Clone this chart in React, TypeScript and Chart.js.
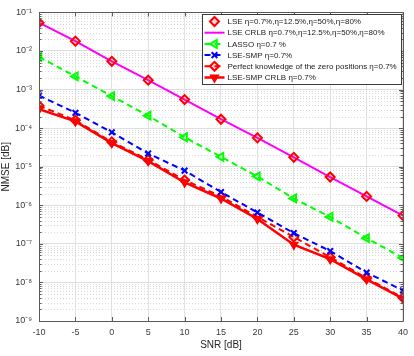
import React, { useEffect, useRef } from "react";
import { Chart, registerables } from "chart.js";
import { drawPoint } from "chart.js/helpers";

Chart.register(...registerables);

const snr = [-10, -5, 0, 5, 10, 15, 20, 25, 30, 35, 40];
const lseValues = [0.054, 0.018, 5.4e-3, 1.75e-3, 5.5e-4, 1.7e-4, 5.6e-5, 1.75e-5, 5.4e-6, 1.7e-6, 5.4e-7];
const lseCrlbValues = [0.054, 0.018, 5.4e-3, 1.75e-3, 5.5e-4, 1.7e-4, 5.6e-5, 1.75e-5, 5.4e-6, 1.7e-6, 5.4e-7];
const lassoValues = [7e-3, 2.2e-3, 6.8e-4, 2.1e-4, 5.8e-5, 1.8e-5, 5.6e-6, 1.5e-6, 5e-7, 1.4e-7, 4.3e-8];
const smpValues = [7e-4, 2.5e-4, 7.8e-5, 2.2e-5, 7.9e-6, 2.2e-6, 6.5e-7, 1.9e-7, 6.5e-8, 1.8e-8, 6.2e-9];
const perfectValues = [3.8e-4, 1.6e-4, 4.4e-5, 1.5e-5, 4.5e-6, 1.7e-6, 5e-7, 1.5e-7, 4.5e-8, 1.3e-8, 4e-9];
const smpCrlbValues = [3.1e-4, 1.5e-4, 4.1e-5, 1.4e-5, 3.9e-6, 1.5e-6, 4.4e-7, 9.5e-8, 4e-8, 1.2e-8, 3.8e-9];

const seriesLabels = [
  "LSE \u03b7=0.7%,\u03b7=12.5%,\u03b7=50%,\u03b7=80%",
  "LSE CRLB \u03b7=0.7%,\u03b7=12.5%,\u03b7=50%,\u03b7=80%",
  "LASSO \u03b7=0.7 %",
  "LSE-SMP \u03b7=0.7%",
  "Perfect knowledge of the zero positions \u03b7=0.7%",
  "LSE-SMP CRLB \u03b7=0.7%",
];

const yTickValues = [1e-9, 1e-8, 1e-7, 1e-6, 1e-5, 1e-4, 1e-3, 1e-2, 1e-1];
const yTickLabels = ["10\u207b\u2079", "10\u207b\u2078", "10\u207b\u2077", "10\u207b\u2076", "10\u207b\u2075", "10\u207b\u2074", "10\u207b\u00b3", "10\u207b\u00b2", "10\u207b\u00b9"];
const xTickValues = [-10, -5, 0, 5, 10, 15, 20, 25, 30, 35, 40];

const FONT = "'Liberation Sans', Arial, Helvetica, sans-serif";
const AXIS = "#5a5a5a";

const toPoints = (vals: number[]) => snr.map((x, i) => ({ x, y: vals[i] }));

const decorPlugin = {
  id: "decor",
  beforeDatasetsDraw(chart: any) {
    const { ctx, chartArea, scales } = chart;
    const y = scales.y;
    ctx.save();
    ctx.strokeStyle = "#d9d9d9";
    ctx.lineWidth = 1;
    ctx.setLineDash([1, 2]);
    for (let e = -9; e < -1; e++) {
      for (let m = 2; m <= 9; m++) {
        const py = Math.round(y.getPixelForValue(m * Math.pow(10, e))) + 0.5;
        ctx.beginPath();
        ctx.moveTo(chartArea.left, py);
        ctx.lineTo(chartArea.right, py);
        ctx.stroke();
      }
    }
    ctx.restore();
  },
  afterDatasetsDraw(chart: any) {
    const { ctx, chartArea, scales } = chart;
    const { left, right, top, bottom } = chartArea;
    const y = scales.y;
    const x = scales.x;
    ctx.save();
    ctx.strokeStyle = AXIS;
    ctx.lineWidth = 1;
    ctx.setLineDash([]);
    ctx.beginPath();
    ctx.rect(Math.round(left) + 0.5, Math.round(top) + 0.5, Math.round(right - left), Math.round(bottom - top));
    ctx.stroke();
    ctx.beginPath();
    for (let e = -9; e <= -1; e++) {
      for (let m = 1; m <= 9; m++) {
        if (e === -1 && m > 1) break;
        const v = m * Math.pow(10, e);
        const py = Math.round(y.getPixelForValue(v)) + 0.5;
        const len = m === 1 ? 4 : 2.5;
        ctx.moveTo(left, py);
        ctx.lineTo(left + len, py);
        ctx.moveTo(right, py);
        ctx.lineTo(right - len, py);
      }
    }
    for (const t of xTickValues) {
      const px = Math.round(x.getPixelForValue(t)) + 0.5;
      ctx.moveTo(px, bottom);
      ctx.lineTo(px, bottom - 4);
      ctx.moveTo(px, top);
      ctx.lineTo(px, top + 4);
    }
    ctx.stroke();
    ctx.restore();
  },
  afterDraw(chart: any) {
    const { ctx, chartArea } = chart;
    const bw = 199;
    const bh = 70;
    const bx = Math.round(chartArea.right - 2 - bw) + 0.5;
    const by = Math.round(chartArea.top + 2) + 0.5;
    ctx.save();
    ctx.fillStyle = "#ffffff";
    ctx.fillRect(bx, by, bw, bh);
    ctx.strokeStyle = "#3c3c3c";
    ctx.lineWidth = 1;
    ctx.strokeRect(bx, by, bw, bh);
    chart.data.datasets.forEach((ds: any, i: number) => {
      const cy = by + 7 + i * 11.2;
      const x0 = bx + 2;
      const x1 = bx + 22;
      if (ds.showLine !== false) {
        ctx.save();
        ctx.strokeStyle = ds.borderColor;
        ctx.lineWidth = ds.borderWidth || 2;
        ctx.setLineDash(ds.borderDash || []);
        ctx.beginPath();
        ctx.moveTo(x0, cy);
        ctx.lineTo(x1, cy);
        ctx.stroke();
        ctx.restore();
      }
      if (ds.pointRadius > 0) {
        ctx.save();
        ctx.setLineDash([]);
        ctx.strokeStyle = ds.pointBorderColor;
        ctx.fillStyle = ds.pointBackgroundColor;
        ctx.lineWidth = ds.pointBorderWidth;
        drawPoint(ctx, {
          pointStyle: ds.pointStyle,
          rotation: ds.pointRotation || 0,
          radius: ds.pointRadius,
          borderWidth: ds.pointBorderWidth,
        } as any, (x0 + x1) / 2, cy);
        ctx.restore();
      }
      ctx.fillStyle = "#1a1a1a";
      ctx.font = `8px ${FONT}`;
      ctx.textBaseline = "middle";
      ctx.textAlign = "left";
      ctx.fillText(ds.label, bx + 25, cy + 0.5);
    });
    ctx.restore();
  },
};

export default function App() {
  const canvasRef = useRef<HTMLCanvasElement | null>(null);

  useEffect(() => {
    const canvas = canvasRef.current;
    if (!canvas) return;
    const red = "#ff0000";
    const chart = new Chart(canvas, {
      type: "line",
      data: {
        datasets: [
          {
            label: seriesLabels[0],
            data: toPoints(lseValues),
            showLine: false,
            borderColor: red,
            borderWidth: 2,
            pointStyle: "rectRot",
            pointRadius: 4.5,
            pointBorderColor: red,
            pointBackgroundColor: "rgba(255,0,0,0.15)",
            pointBorderWidth: 2,
          },
          {
            label: seriesLabels[1],
            data: toPoints(lseCrlbValues),
            borderColor: "#ff00ff",
            borderWidth: 2,
            pointRadius: 0,
            pointBorderColor: "#ff00ff",
            pointBackgroundColor: "#ff00ff",
            pointBorderWidth: 0,
          },
          {
            label: seriesLabels[2],
            data: toPoints(lassoValues),
            borderColor: "#00ff00",
            borderWidth: 2,
            borderDash: [6, 4],
            pointStyle: "triangle",
            pointRotation: -90,
            pointRadius: 4.5,
            pointBorderColor: "#00ff00",
            pointBackgroundColor: "rgba(0,255,0,0.15)",
            pointBorderWidth: 2,
          },
          {
            label: seriesLabels[3],
            data: toPoints(smpValues),
            borderColor: "#0000ff",
            borderWidth: 2,
            borderDash: [6, 4],
            pointStyle: "crossRot",
            pointRadius: 4,
            pointBorderColor: "#0000ff",
            pointBackgroundColor: "#0000ff",
            pointBorderWidth: 2,
          },
          {
            label: seriesLabels[4],
            data: toPoints(perfectValues),
            borderColor: red,
            borderWidth: 2,
            borderDash: [6, 4],
            pointStyle: "rectRot",
            pointRadius: 4.5,
            pointBorderColor: red,
            pointBackgroundColor: "rgba(255,0,0,0.15)",
            pointBorderWidth: 2,
          },
          {
            label: seriesLabels[5],
            data: toPoints(smpCrlbValues),
            borderColor: red,
            borderWidth: 2.5,
            pointStyle: "triangle",
            pointRotation: 180,
            pointRadius: 4.5,
            pointBorderColor: red,
            pointBackgroundColor: red,
            pointBorderWidth: 1.5,
          },
        ] as any,
      },
      options: {
        animation: false,
        responsive: false,
        layout: { padding: { top: 7, right: 10, left: 0, bottom: 0 } },
        plugins: {
          legend: { display: false },
          tooltip: { enabled: false },
        },
        scales: {
          x: {
            type: "linear",
            min: -10,
            max: 40,
            afterBuildTicks: (scale: any) => {
              scale.ticks = xTickValues.map((v) => ({ value: v }));
            },
            afterFit: (scale: any) => {
              scale.height = 35;
            },
            grid: { color: "#e2e2e2", lineWidth: 1, drawTicks: false },
            border: { display: false },
            ticks: {
              padding: 6,
              color: "#3a3a3a",
              font: { family: FONT, size: 9 },
              maxRotation: 0,
              callback: (v: any) => String(v),
            },
            title: {
              display: true,
              text: "SNR [dB]",
              color: "#262626",
              font: { family: FONT, size: 10 },
              padding: { top: 0, bottom: 5 },
            },
          },
          y: {
            type: "logarithmic",
            min: 1e-9,
            max: 1e-1,
            afterBuildTicks: (scale: any) => {
              scale.ticks = yTickValues.map((v) => ({ value: v, major: true }));
            },
            afterFit: (scale: any) => {
              scale.width = 39;
            },
            grid: { color: "#dedede", lineWidth: 1, drawTicks: false },
            border: { display: false },
            ticks: {
              padding: 7,
              color: "#3a3a3a",
              font: { family: FONT, size: 9 },
              callback: (_v: any, i: number) => yTickLabels[i],
            },
            title: {
              display: true,
              text: "NMSE [dB]",
              color: "#262626",
              font: { family: FONT, size: 10 },
              padding: { top: 0, bottom: 0 },
            },
          },
        },
      } as any,
      plugins: [decorPlugin],
    });
    return () => chart.destroy();
  }, []);

  return (
    <div style={{ position: "absolute", left: 0, top: 0, width: 414, height: 356, background: "#fff" }}>
      <canvas ref={canvasRef} width={414} height={356} style={{ width: 414, height: 356 }} />
    </div>
  );
}
